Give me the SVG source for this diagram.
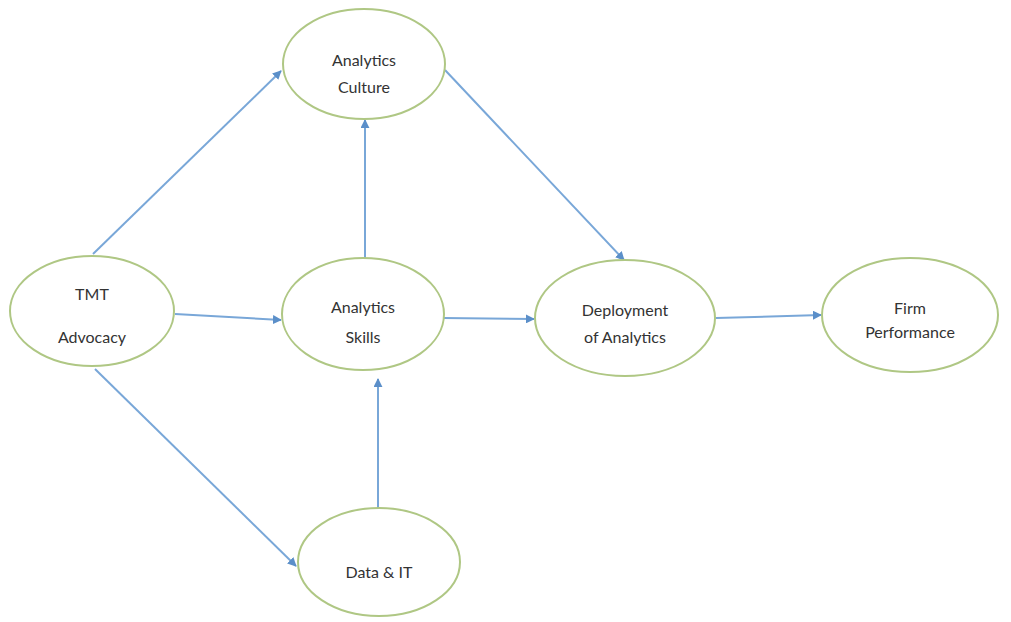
<svg xmlns="http://www.w3.org/2000/svg" width="1011" height="622" viewBox="0 0 1011 622">
  <style>
    .node { fill: #ffffff; stroke: #afc784; stroke-width: 2; }
    .label { font-family: Lato, "Liberation Sans", Arial, sans-serif; font-size: 16px; fill: #333333; text-anchor: middle; }
    .edge { stroke: #79a7d8; stroke-width: 2; fill: none; marker-end: url(#arrow); }
  </style>
  <defs>
    <marker id="arrow" viewBox="0 0 10 10" refX="9" refY="5" markerWidth="4.5" markerHeight="4.5" orient="auto" markerUnits="strokeWidth">
      <path d="M0,0 L10,5 L0,10 z" fill="#5b8fc9"/>
    </marker>
  </defs>
  <rect width="1011" height="622" fill="#ffffff"/>

  <!-- connectors -->
  <g id="connectors">
    <line class="edge" x1="93" y1="254" x2="281" y2="71"/>
    <line class="edge" x1="175" y1="314" x2="281" y2="320"/>
    <line class="edge" x1="95" y1="369" x2="296" y2="566"/>
    <line class="edge" x1="365" y1="258" x2="365" y2="120"/>
    <line class="edge" x1="378" y1="508" x2="378" y2="379"/>
    <line class="edge" x1="445" y1="70" x2="624" y2="260"/>
    <line class="edge" x1="443" y1="318" x2="534" y2="319"/>
    <line class="edge" x1="716" y1="318" x2="821" y2="315"/>
  </g>

  <!-- nodes -->
  <g id="tmt-advocacy">
    <ellipse class="node" cx="92" cy="311" rx="82" ry="55"/>
    <text class="label" x="92" y="300">TMT</text>
    <text class="label" x="92" y="343">Advocacy</text>
  </g>
  <g id="analytics-culture">
    <ellipse class="node" cx="364" cy="64" rx="81" ry="55"/>
    <text class="label" x="364" y="66">Analytics</text>
    <text class="label" x="364" y="93">Culture</text>
  </g>
  <g id="analytics-skills">
    <ellipse class="node" cx="363" cy="314" rx="81" ry="56"/>
    <text class="label" x="363" y="313">Analytics</text>
    <text class="label" x="363" y="343">Skills</text>
  </g>
  <g id="deployment-of-analytics">
    <ellipse class="node" cx="625" cy="318" rx="90" ry="58"/>
    <text class="label" x="625" y="316">Deployment</text>
    <text class="label" x="625" y="343">of Analytics</text>
  </g>
  <g id="firm-performance">
    <ellipse class="node" cx="910" cy="315" rx="88" ry="57"/>
    <text class="label" x="910" y="314">Firm</text>
    <text class="label" x="910" y="338">Performance</text>
  </g>
  <g id="data-it">
    <ellipse class="node" cx="379" cy="562" rx="81" ry="54"/>
    <text class="label" x="379" y="578">Data &amp; IT</text>
  </g>
</svg>
